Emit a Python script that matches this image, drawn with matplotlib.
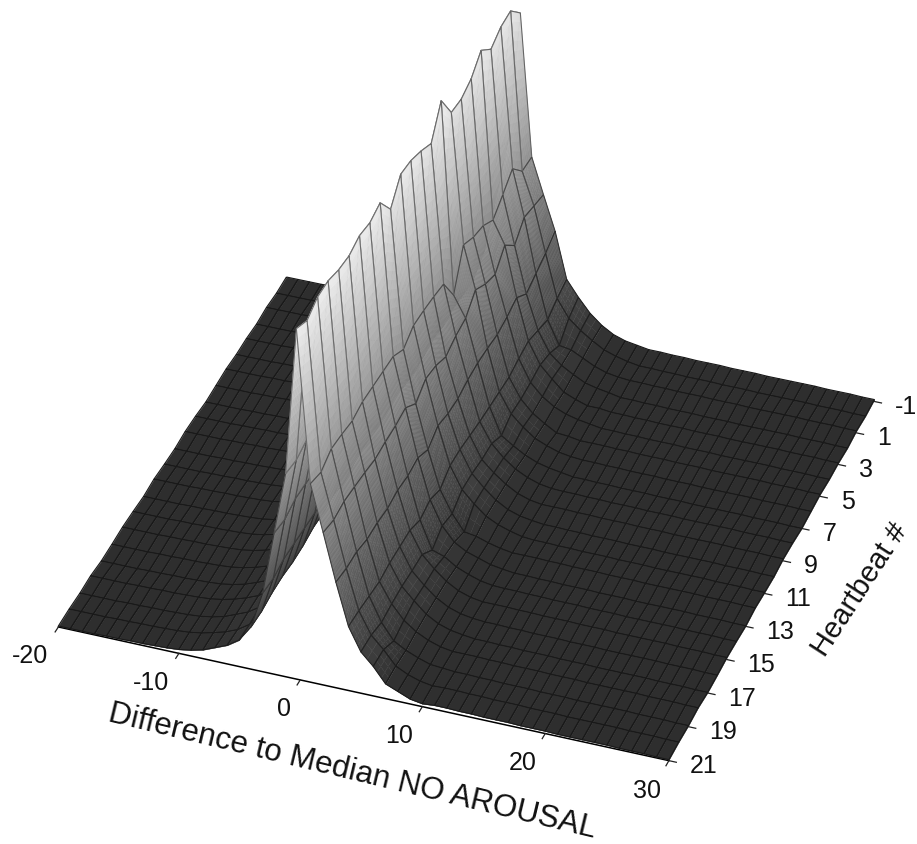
import numpy as np
import matplotlib
matplotlib.use("Agg")
import matplotlib.pyplot as plt
from matplotlib.colors import LinearSegmentedColormap, Normalize
from mpl_toolkits.mplot3d import proj3d
from mpl_toolkits.mplot3d.art3d import Poly3DCollection, Line3DCollection

plt.rcParams['font.family'] = ['Liberation Sans', 'DejaVu Sans']

diff_values = np.arange(-20, 31)
heartbeats = np.arange(-1, 22)
x_ticks = [-20, -10, 0, 10, 20, 30]
y_ticks = [-1, 1, 3, 5, 7, 9, 11, 13, 15, 17, 19, 21]

# flat parts either side of the peak, x = -20..-8 and x = 11..30
floor_left = [1, 1, 1, 1, 1.5, 1.5, 2, 2, 2.5, 3, 4, 6, 9]
floor_right = [4, 4, 3.5, 3.5, 3, 3, 3, 2.5, 2.5, 2.5, 2, 2, 2, 2, 2, 1.5, 1.5, 1.5, 1, 1]
row_wave = [1, 0, 1, -.5, .5, 0, 1, 0, -1, .5, 1, -.5, 0, 1, -.5, .5, 1, 0, -.5, 1, 0, .5, 0]

# around the peak, x = -7..10, one row per heartbeat from -1 to 21
peak_rows = [
    [12, 16, 24, 38, 72, 130, 190, 321, 178, 142, 107, 60, 44, 30, 20, 13, 9, 7],
    [13, 17, 25, 40, 76, 136, 196, 338, 179, 146, 100, 56, 38, 28, 20, 13, 9, 6],
    [13, 18, 26, 42, 78, 140, 200, 337, 197, 150, 95, 50, 26, 24, 18, 12, 8, 6],
    [12, 17, 25, 40, 75, 135, 195, 330, 186, 137, 90, 55, 34, 24, 17, 11, 8, 6],
    [14, 19, 27, 43, 80, 142, 205, 344, 176, 153, 102, 60, 38, 26, 15, 10, 6, 6],
    [13, 18, 26, 41, 77, 138, 198, 331, 186, 139, 98, 58, 36, 24, 16, 11, 8, 6],
    [12, 17, 25, 40, 74, 132, 192, 326, 190, 145, 96, 55, 35, 23, 15, 8, 7, 5],
    [13, 18, 26, 42, 78, 140, 200, 328, 198, 155, 98, 56, 36, 25, 16, 11, 7, 5],
    [14, 20, 29, 46, 85, 150, 215, 355, 163, 142, 99, 57, 30, 22, 15, 10, 7, 5],
    [13, 18, 26, 41, 76, 136, 196, 328, 190, 140, 98, 58, 38, 26, 17, 11, 7, 5],
    [13, 18, 27, 43, 80, 143, 205, 336, 193, 135, 95, 60, 38, 27, 18, 11, 7, 5],
    [14, 19, 28, 45, 82, 146, 208, 342, 195, 142, 96, 62, 40, 28, 18, 11, 7, 5],
    [14, 19, 27, 44, 82, 145, 207, 344, 196, 145, 100, 62, 40, 28, 18, 12, 8, 5],
    [13, 17, 25, 40, 74, 130, 192, 325, 188, 136, 92, 54, 32, 16, 14, 10, 7, 5],
    [14, 19, 28, 45, 82, 146, 208, 347, 197, 148, 100, 60, 36, 22, 15, 11, 7, 5],
    [13, 18, 26, 43, 78, 140, 202, 343, 198, 146, 98, 56, 28, 24, 16, 11, 7, 5],
    [14, 19, 27, 44, 80, 142, 205, 346, 199, 146, 100, 62, 40, 28, 18, 11, 7, 5],
    [13, 18, 26, 42, 78, 140, 200, 342, 200, 145, 98, 62, 40, 28, 18, 11, 7, 5],
    [13, 18, 26, 42, 79, 141, 202, 344, 197, 148, 100, 62, 41, 29, 18, 11, 7, 5],
    [14, 19, 27, 44, 80, 143, 205, 349, 200, 150, 100, 60, 40, 26, 17, 11, 7, 5],
    [14, 19, 27, 44, 81, 144, 206, 349, 202, 152, 104, 62, 38, 22, 15, 10, 6, 5],
    [13, 18, 26, 42, 78, 140, 202, 342, 195, 150, 104, 64, 42, 30, 16, 10, 6, 4],
    [14, 19, 27, 43, 80, 143, 205, 350, 200, 154, 107, 65, 42, 30, 15, 10, 5, 3],
]

Z = np.hstack([
    np.add.outer(row_wave, floor_left),
    np.array(peak_rows, dtype=float),
    np.add.outer(row_wave, floor_right),
])

fig = plt.figure(figsize=(9.17, 8.45), dpi=100)
ax = fig.add_subplot(projection='3d', computed_zorder=False)
ax.set_axis_off()
ax.set_xlim(-20, 30)
ax.set_ylim(21, -1)
ax.set_zlim(0, 380)
ax.set_proj_type('persp', focal_length=2.1)
ax.view_init(elev=35.2, azim=-70.1)
ax.set_box_aspect((1, 1, 0.718))


def to_pixels(x, y, z):
    xd, yd, _ = proj3d.proj_transform(np.asarray(x), np.asarray(y), np.asarray(z), ax.get_proj())
    return ax.transData.transform(np.column_stack([xd, yd]))


# place the axes so the floor corners land where they are in the picture
corner_x = np.array([-20, 30, 30, -20])
corner_y = np.array([21, 21, -1, -1])
corner_px = np.array([[55, 845 - 625], [672, 845 - 757], [876, 845 - 405], [285, 845 - 285]], float)
ax.set_position([0.1, 0.1, 0.8, 0.8])
ax.apply_aspect()
now = to_pixels(corner_x, corner_y, 0 * corner_x)
bb = ax.get_position().transformed(fig.transFigure)
centre = np.array([bb.x0 + bb.width / 2, bb.y0 + bb.height / 2])
p = now - now.mean(axis=0)
t = corner_px - corner_px.mean(axis=0)
k = (p * t).sum() / (p * p).sum()
side = bb.width * k
new_centre = corner_px.mean(axis=0) - k * (now.mean(axis=0) - centre)
ax.set_position([(new_centre[0] - side / 2) / 917, (new_centre[1] - side / 2) / 845, side / 917, side / 845])
ax.apply_aspect()

cmap = LinearSegmentedColormap.from_list('hill', [(0, '#2e2e2e'), (0.03, '#303030'), (1, '#ececec')])
norm = Normalize(0, 345)

# front axis and ticks, under the surface
ax.plot([-20, 30], [21, 21], [0, 0], color='black', lw=1.1, zorder=0)
for v in x_ticks:
    ax.plot([v, v], [21, 21.3], [0, 0], color='#222222', lw=0.9, zorder=0)
    px = to_pixels([v + 0.6], [21 + 1.6], [0])[0]
    fig.text(px[0] / 917, px[1] / 845, str(v), ha='right', va='center', fontsize=18, color='#111111')
for v in y_ticks:
    ax.plot([30, 30.6], [v, v], [0, 0], color='#222222', lw=0.9, zorder=0)
    px = to_pixels([30 + 1.7], [v], [0])[0]
    fig.text(px[0] / 917, px[1] / 845, str(v), ha='left', va='center', fontsize=18, color='#111111')

# back to front so nearer cells cover the ones behind
order = 1
for r in range(len(heartbeats) - 1):
    for c in range(len(diff_values) - 1):
        z4 = Z[r:r + 2, c:c + 2]
        n = int(np.clip((z4.max() - z4.min()) / 5, 1, 16))
        s = np.linspace(0, 1, n + 1)
        faces, vals = [], []
        gx = diff_values[c] + s
        gy = heartbeats[r] + s
        gz = np.outer(1 - s, (1 - s) * z4[0, 0] + s * z4[0, 1]) + np.outer(s, (1 - s) * z4[1, 0] + s * z4[1, 1])
        for a in range(n):
            for b in range(n):
                faces.append([(gx[b], gy[a], gz[a, b]), (gx[b + 1], gy[a], gz[a, b + 1]),
                              (gx[b + 1], gy[a + 1], gz[a + 1, b + 1]), (gx[b], gy[a + 1], gz[a + 1, b])])
                vals.append(gz[a:a + 2, b:b + 2].mean())
        cols = cmap(norm(vals))
        ax.add_collection3d(Poly3DCollection(faces, facecolors=cols, edgecolors=cols, linewidths=0.3,
                                             zorder=order), autolim=False)
        shade = cmap(norm(z4.mean()))[0] * 0.55
        edge = [(diff_values[c], heartbeats[r], z4[0, 0]), (diff_values[c + 1], heartbeats[r], z4[0, 1]),
                (diff_values[c + 1], heartbeats[r + 1], z4[1, 1]), (diff_values[c], heartbeats[r + 1], z4[1, 0]),
                (diff_values[c], heartbeats[r], z4[0, 0])]
        ax.add_collection3d(Line3DCollection([edge], colors=[(shade, shade, shade)], linewidths=0.8,
                                             zorder=order + 0.5), autolim=False)
        order += 1

fig.text(352 / 917, 1 - 772 / 845, 'Difference to Median NO AROUSAL', rotation=-13.5,
         ha='center', va='center', fontsize=22.5, color='#111111')
fig.text(860 / 917, 1 - 590 / 845, 'Heartbeat #', rotation=57,
         ha='center', va='center', fontsize=21, color='#111111')

fig.savefig('out.png', dpi=100)
